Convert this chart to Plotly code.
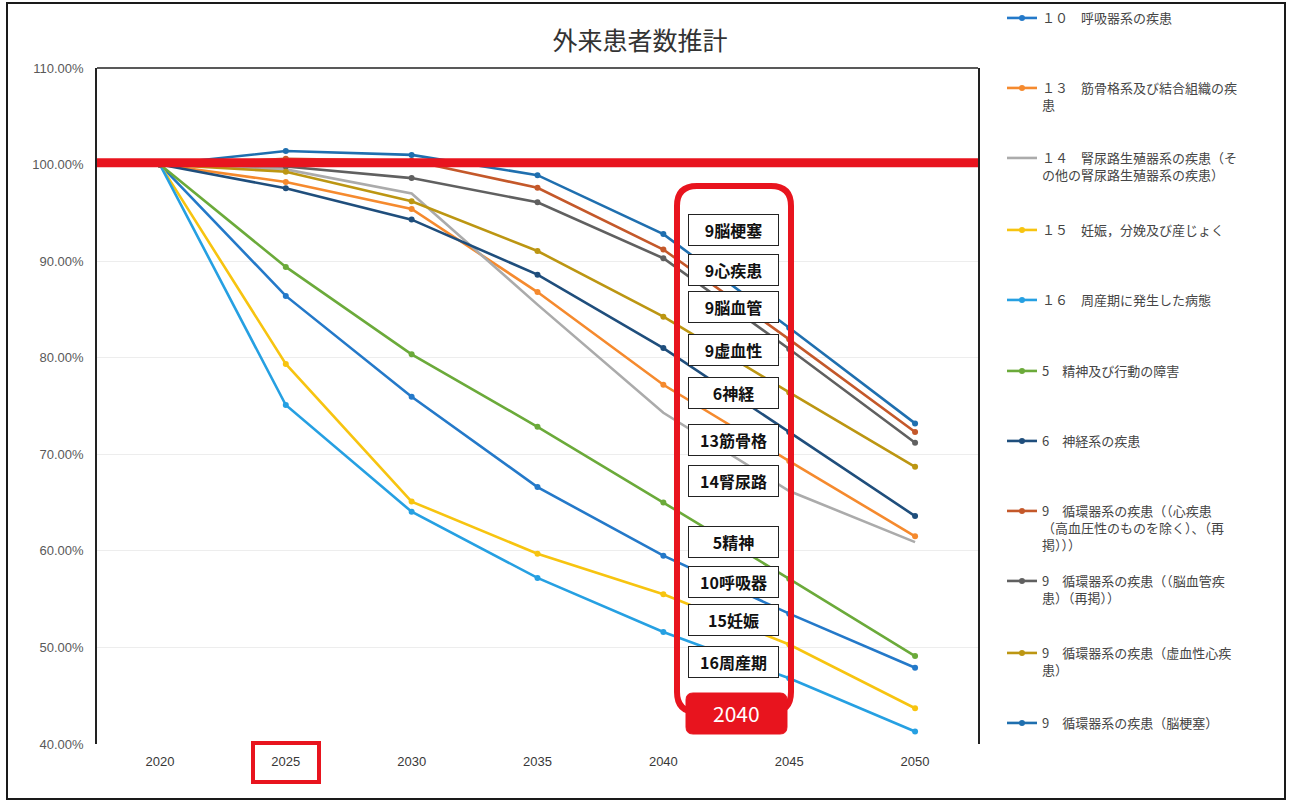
import plotly.graph_objects as go

# ---- data -------------------------------------------------------------
years = ["2020", "2025", "2030", "2035", "2040", "2045", "2050"]

resp_10 = [100, 86.4, 75.96, 66.6, 59.5, 53.5, 47.9]
musc_13 = [100, 98.2, 95.4, 86.8, 77.2, 69.3, 61.5]
geni_14 = [100, 99.5, 97.0, 85.5, 74.3, 66.2, 60.9]
preg_15 = [100, 79.35, 65.1, 59.7, 55.5, 50.3, 43.7]
peri_16 = [100, 75.1, 64.05, 57.2, 51.6, 46.8, 41.3]
mental_5 = [100, 89.4, 80.35, 72.85, 65.0, 57.1, 49.1]
nerve_6 = [100, 97.55, 94.3, 88.6, 81.0, 72.3, 63.6]
heart_9 = [100, 100.6, 100.4, 97.6, 91.2, 81.9, 72.3]
cereb_9 = [100, 99.8, 98.6, 96.1, 90.3, 80.9, 71.2]
ischem_9 = [100, 99.26, 96.2, 91.05, 84.25, 76.4, 68.7]
infarct_9 = [100, 101.4, 101.0, 98.9, 92.8, 83.1, 73.2]

series_names = [
    "１０　呼吸器系の疾患",
    "１３　筋骨格系及び結合組織の疾<br>患",
    "１４　腎尿路生殖器系の疾患（そ<br>の他の腎尿路生殖器系の疾患）",
    "１５　妊娠，分娩及び産じょく",
    "１６　周産期に発生した病態",
    "5　精神及び行動の障害",
    "6　神経系の疾患",
    "9　循環器系の疾患（（心疾患<br>（高血圧性のものを除く）、（再<br>掲）））",
    "9　循環器系の疾患（（脳血管疾<br>患）（再掲））",
    "9　循環器系の疾患（虚血性心疾<br>患）",
    "9　循環器系の疾患（脳梗塞）",
]
series_values = [resp_10, musc_13, geni_14, preg_15, peri_16, mental_5,
                 nerve_6, heart_9, cereb_9, ischem_9, infarct_9]
series_colors = ["#2479C9", "#F58A2E", "#ABABAB", "#F7C410", "#26A0E2",
                 "#6BAA3A", "#1F4E7C", "#C4582A", "#606060", "#BC9612",
                 "#1F6FAF"]
series_markers = [True, True, False, True, True, True, True, True, True,
                  True, True]

callout_labels = ["9脳梗塞", "9心疾患", "9脳血管", "9虚血性", "6神経",
                  "13筋骨格", "14腎尿路", "5精神", "10呼吸器", "15妊娠",
                  "16周産期"]
highlight_year = "2040"
y_ticks = [40, 50, 60, 70, 80, 90, 100, 110]
y_tick_text = [f"{v:.2f}%" for v in y_ticks]

# ---- canvas geometry (pixels) ----------------------------------------
W, H = 1291, 803
L, R, T, B = 97, 978, 68, 744
FONT = "Noto Sans CJK JP"


def px(x):
    return (x - L) / (R - L)


def py(y):
    return (B - y) / (B - T)


def rounded_path(x0, y0, x1, y1, r):
    pts = [
        ("M", [(x0 + r, y0)]),
        ("L", [(x1 - r, y0)]),
        ("Q", [(x1, y0), (x1, y0 + r)]),
        ("L", [(x1, y1 - r)]),
        ("Q", [(x1, y1), (x1 - r, y1)]),
        ("L", [(x0 + r, y1)]),
        ("Q", [(x0, y1), (x0, y1 - r)]),
        ("L", [(x0, y0 + r)]),
        ("Q", [(x0, y0), (x0 + r, y0)]),
    ]
    out = []
    for cmd, ps in pts:
        out.append(cmd + " " + " ".join(f"{px(a):.5f},{py(b):.5f}" for a, b in ps))
    return " ".join(out) + " Z"


fig = go.Figure()

legend_rows = [20, 90, 160, 232, 302, 373, 443, 513, 583, 655, 725]

for i, (name, vals, col, mk) in enumerate(zip(series_names, series_values,
                                              series_colors, series_markers)):
    key = "legend" if i == 0 else f"legend{i + 1}"
    fig.add_trace(go.Scatter(
        x=years, y=vals, name=name,
        mode="lines+markers" if mk else "lines",
        line=dict(color=col, width=2.6),
        marker=dict(size=6, color=col, symbol="circle"),
        legend=key,
    ))
    fig.layout[key] = dict(
        x=px(1002), xanchor="left",
        y=py(legend_rows[i] - 17), yanchor="top",
        font=dict(size=13, color="#454545", family=FONT),
        bgcolor="rgba(0,0,0,0)", borderwidth=0,
        valign="top", itemwidth=30, tracegroupgap=0,
    )

shapes = []
# plot frame: black top edge (left/right come from the y axis line)
shapes.append(dict(type="line", xref="paper", yref="paper", x0=0, x1=1, y0=1, y1=1,
                   line=dict(color="#222222", width=1.5)))
# 100% reference line
shapes.append(dict(type="line", xref="paper", yref="y", x0=0, x1=1, y0=100.2, y1=100.2,
                   line=dict(color="#E8141E", width=9), layer="above"))
# callout frame around the labels
shapes.append(dict(type="path", xref="paper", yref="paper",
                   path=rounded_path(677, 186, 791, 712, 20),
                   line=dict(color="#E8141E", width=6), layer="above"))
shapes.append(dict(type="path", xref="paper", yref="paper",
                   path=rounded_path(686, 693, 787, 734, 7),
                   line=dict(color="#E8141E", width=1), fillcolor="#E8141E",
                   layer="above"))
# box around the 2025 tick label
shapes.append(dict(type="rect", xref="paper", yref="paper",
                   x0=px(253), x1=px(319), y0=py(743), y1=py(782),
                   line=dict(color="#E8141E", width=4)))
# outer frame
shapes.append(dict(type="rect", xref="paper", yref="paper",
                   x0=px(7), x1=px(1285), y0=py(3), y1=py(799),
                   line=dict(color="#1A1A1A", width=2)))

annotations = []
label_centers = [230, 270, 307, 350, 393, 440, 481, 542, 582, 620, 662]
for lab, yc in zip(callout_labels, label_centers):
    annotations.append(dict(
        xref="paper", yref="paper", x=px(733.5), y=py(yc),
        xanchor="center", yanchor="middle",
        text=f"<b>{lab}</b>", showarrow=False,
        font=dict(size=16, color="#111111", family=FONT),
        bgcolor="white", bordercolor="#222222", borderwidth=1,
        width=87, height=28, borderpad=1, align="center", valign="middle",
    ))
annotations.append(dict(
    xref="paper", yref="paper", x=px(736.5), y=py(713),
    xanchor="center", yanchor="middle",
    text=highlight_year, showarrow=False,
    font=dict(size=21, color="white", family=FONT),
))

fig.update_layout(
    width=W, height=H,
    margin=dict(l=L, r=W - R, t=T, b=H - B, autoexpand=False),
    paper_bgcolor="white", plot_bgcolor="white",
    font=dict(family=FONT, color="#404040"),
    title=dict(text="外来患者数推計", xref="container", yref="container",
               x=640 / W, y=1 - 41 / H, xanchor="center", yanchor="middle",
               font=dict(size=25, color="#333333", family=FONT)),
    showlegend=True,
    shapes=shapes,
    annotations=annotations,
    xaxis=dict(
        type="category", range=[-0.5, 6.5],
        showgrid=False, showline=False, zeroline=False,
        ticks="", ticklabelstandoff=8,
        tickfont=dict(size=13, color="#383838", family="Liberation Sans"),
    ),
    yaxis=dict(
        range=[40, 110], tickvals=y_ticks, ticktext=y_tick_text,
        showgrid=True, gridcolor="#EDEDED", gridwidth=1,
        showline=True, linecolor="#222222", linewidth=1.5, mirror=True,
        zeroline=False, ticks="", ticklabelstandoff=9,
        tickfont=dict(size=13, color="#595959", family="Liberation Sans"),
    ),
)

fig.write_html("out.html")
